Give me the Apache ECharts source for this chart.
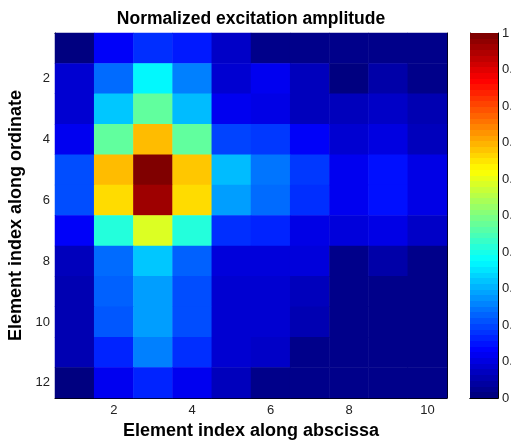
<!DOCTYPE html>
<html>
<head>
<meta charset="utf-8">
<script src="https://cdn.jsdelivr.net/npm/echarts@6/dist/echarts.min.js"></script>
<style>
  html, body { margin: 0; padding: 0; background: #fff; }
  #chart { width: 511px; height: 440px; }
</style>
</head>
<body>
<div id="chart"></div>
<script>
/* Excitation amplitude heatmap (10 x 12 elements) */
const colLabels = ['1', '2', '3', '4', '5', '6', '7', '8', '9', '10'];
const rowLabels = ['1', '2', '3', '4', '5', '6', '7', '8', '9', '10', '11', '12'];
const colorbarTicks = [0, 0.1, 0.2, 0.3, 0.4, 0.5, 0.6, 0.7, 0.8, 0.9, 1];

// one row per ordinate index, values along the abscissa
const amplitude = [
    [0.00, 0.12, 0.17, 0.15, 0.07, 0.01, 0.01, 0.01, 0.01, 0.01],
    [0.08, 0.23, 0.37, 0.25, 0.08, 0.11, 0.06, 0.00, 0.04, 0.01],
    [0.08, 0.32, 0.47, 0.31, 0.11, 0.10, 0.06, 0.06, 0.07, 0.05],
    [0.11, 0.47, 0.69, 0.47, 0.19, 0.18, 0.12, 0.08, 0.095, 0.06],
    [0.20, 0.69, 1.00, 0.68, 0.31, 0.24, 0.18, 0.11, 0.14, 0.10],
    [0.20, 0.66, 0.97, 0.66, 0.28, 0.23, 0.17, 0.11, 0.14, 0.10],
    [0.12, 0.41, 0.59, 0.41, 0.17, 0.16, 0.10, 0.09, 0.10, 0.07],
    [0.06, 0.23, 0.32, 0.22, 0.09, 0.09, 0.09, 0.01, 0.04, 0.01],
    [0.05, 0.22, 0.28, 0.20, 0.08, 0.08, 0.06, 0.01, 0.01, 0.01],
    [0.05, 0.21, 0.28, 0.20, 0.08, 0.08, 0.05, 0.01, 0.01, 0.01],
    [0.05, 0.16, 0.25, 0.17, 0.08, 0.07, 0.01, 0.01, 0.01, 0.01],
    [0.00, 0.11, 0.16, 0.11, 0.06, 0.01, 0.01, 0.01, 0.01, 0.01],
];

/* MATLAB jet colormap, 64 levels */
function jet(v) {
    const c = (t) => Math.round(255 * Math.max(0, Math.min(1, t)));
    const r = c(1.5 - Math.abs(4 * v - 3));
    const g = c(1.5 - Math.abs(4 * v - 2));
    const b = c(1.5 - Math.abs(4 * v - 1));
    return `rgb(${r},${g},${b})`;
}
const jetColors = [];
for (let i = 0; i < 64; i++) jetColors.push(jet(i / 63));

// stepped gradient for the colorbar (bottom -> top)
const barStops = [];
jetColors.forEach((col, i) => {
    barStops.push({ offset: i / 64, color: col });
    barStops.push({ offset: (i + 1) / 64, color: col });
});

const heatData = [];
amplitude.forEach((row, y) => {
    row.forEach((val, x) => heatData.push([x, y, val]));
});

const font = 'Liberation Sans, Arial, sans-serif';
const evenIdx = (idx) => (idx + 1) % 2 === 0;

let chartDom = document.getElementById('chart');
let myChart = echarts.init(chartDom, null, { renderer: 'canvas' });

let option = {
    backgroundColor: '#fff',
    animation: false,
    title: {
        text: 'Normalized excitation amplitude',
        left: 246,
        textAlign: 'center',
        top: 5,
        textStyle: { fontFamily: font, fontSize: 17.5, fontWeight: 'bold', color: '#000' },
    },
    grid: [
        { left: 55, top: 33, width: 392, height: 365, outerBoundsMode: 'none' },
        { left: 470, top: 33, width: 28, height: 365, outerBoundsMode: 'none' },
    ],
    xAxis: [
        {
            type: 'category', gridIndex: 0, data: colLabels, position: 'bottom',
            name: 'Element index along abscissa', nameLocation: 'middle', nameGap: 19,
            nameTextStyle: { fontFamily: font, fontSize: 18, fontWeight: 'bold', color: '#000' },
            axisLine: { lineStyle: { color: '#000' } },
            axisTick: { inside: true, length: 4, alignWithLabel: true, interval: evenIdx, lineStyle: { color: '#000' } },
            axisLabel: { interval: evenIdx, margin: 6, fontFamily: font, fontSize: 13, color: '#222' },
            splitLine: { show: false },
        },
        {
            type: 'category', gridIndex: 0, data: colLabels, position: 'top',
            axisLine: { lineStyle: { color: '#000' } },
            axisTick: { inside: true, length: 4, alignWithLabel: true, interval: evenIdx, lineStyle: { color: '#000' } },
            axisLabel: { show: false },
        },
        {
            type: 'category', gridIndex: 1, data: [''], position: 'bottom',
            axisLine: { lineStyle: { color: '#000' } },
            axisTick: { show: false }, axisLabel: { show: false },
        },
        {
            type: 'category', gridIndex: 1, data: [''], position: 'top',
            axisLine: { lineStyle: { color: '#000' } },
            axisTick: { show: false }, axisLabel: { show: false },
        },
    ],
    yAxis: [
        {
            type: 'category', gridIndex: 0, data: rowLabels, inverse: true, position: 'left',
            name: 'Element index along ordinate', nameLocation: 'middle', nameGap: 29,
            nameTextStyle: { fontFamily: font, fontSize: 18, fontWeight: 'bold', color: '#000' },
            axisLine: { lineStyle: { color: '#000' } },
            axisTick: { inside: true, length: 4, alignWithLabel: true, interval: evenIdx, lineStyle: { color: '#000' } },
            axisLabel: { interval: evenIdx, margin: 5, fontFamily: font, fontSize: 13, color: '#222' },
            splitLine: { show: false },
        },
        {
            type: 'category', gridIndex: 0, data: rowLabels, inverse: true, position: 'right',
            axisLine: { lineStyle: { color: '#000' } },
            axisTick: { inside: true, length: 4, alignWithLabel: true, interval: evenIdx, lineStyle: { color: '#000' } },
            axisLabel: { show: false },
        },
        {
            type: 'value', gridIndex: 1, min: 0, max: 1, interval: 0.1, position: 'right',
            axisLine: { show: true, lineStyle: { color: '#000' } },
            axisTick: { show: true, inside: true, length: 4, lineStyle: { color: '#000' } },
            axisLabel: {
                margin: 4, fontFamily: font, fontSize: 13, color: '#222', hideOverlap: false,
                formatter: (v) => colorbarTicks.includes(Math.round(v * 10) / 10) ? String(Math.round(v * 10) / 10) : '',
            },
            splitLine: { show: false },
        },
        {
            type: 'value', gridIndex: 1, min: 0, max: 1, interval: 0.1, position: 'left',
            axisLine: { show: true, lineStyle: { color: '#000' } },
            axisTick: { show: true, inside: true, length: 4, lineStyle: { color: '#000' } },
            axisLabel: { show: false },
            splitLine: { show: false },
        },
    ],
    visualMap: {
        show: false,
        type: 'continuous',
        min: 0,
        max: 1,
        dimension: 2,
        seriesIndex: 0,
        inRange: { color: jetColors },
    },
    series: [
        {
            name: 'Amplitude',
            type: 'heatmap',
            xAxisIndex: 0,
            yAxisIndex: 0,
            data: heatData,
            itemStyle: { borderWidth: 0 },
            z: 1,
        },
        {
            name: 'Colorbar',
            type: 'bar',
            xAxisIndex: 2,
            yAxisIndex: 2,
            data: [1],
            barWidth: '100%',
            itemStyle: { color: new echarts.graphic.LinearGradient(0, 1, 0, 0, barStops) },
            z: 1,
        },
    ],
};

option && myChart.setOption(option);
</script>
</body>
</html>
